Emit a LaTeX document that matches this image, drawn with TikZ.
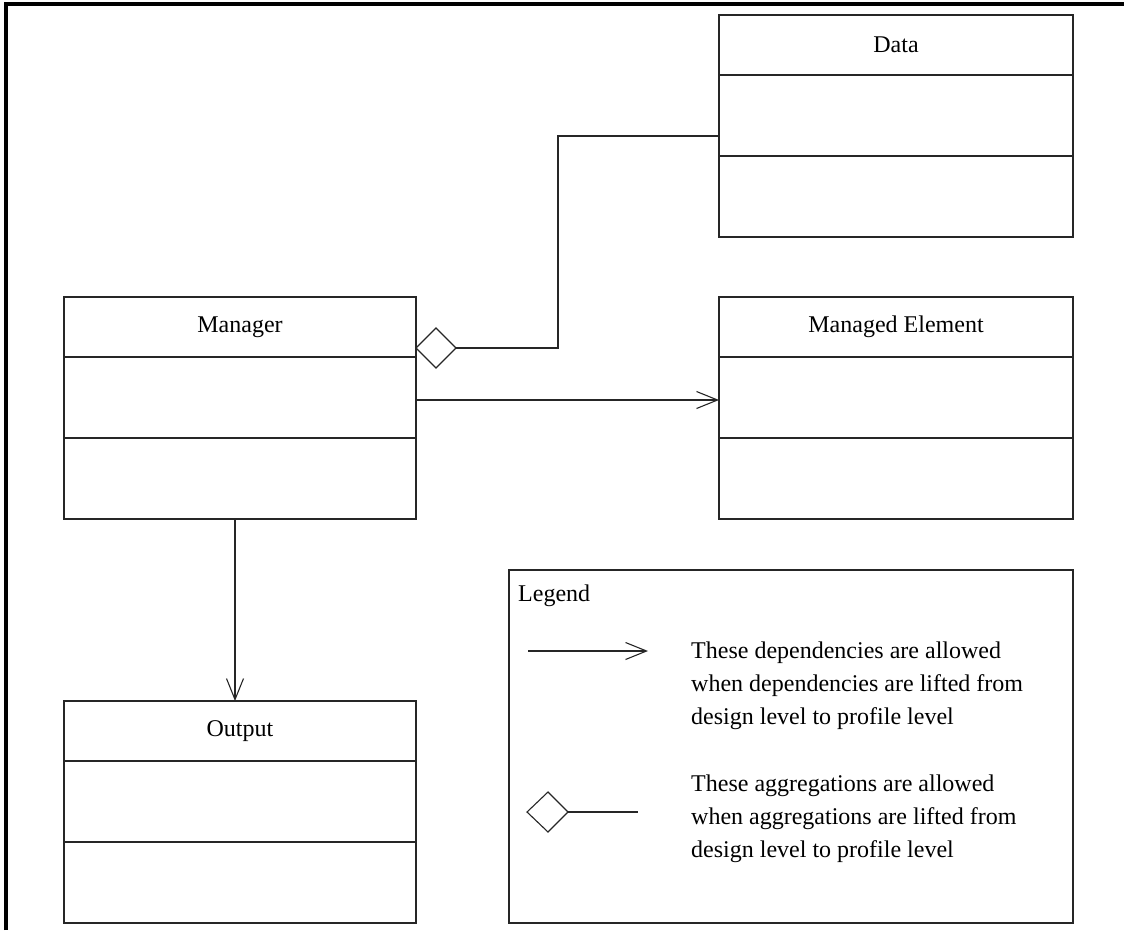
\documentclass[tikz,border=0pt]{standalone}
\usepackage{fontspec}
\setmainfont{Liberation Serif}
\usetikzlibrary{arrows.meta}
\begin{document}
\begin{tikzpicture}[x=1pt,y=-1pt,
  box/.style={draw=black!85,line width=1.2pt},
  sep/.style={draw=black!85,line width=1.2pt},
  conn/.style={draw=black!85,line width=1.1pt},
  dep/.style={conn,-{Straight Barb[length=21pt,width=17pt,line width=1.1pt]}},
  title/.style={font=\fontsize{24}{28}\selectfont,inner sep=0pt},
  legtext/.style={font=\fontsize{24}{33}\selectfont,align=left,anchor=north west,inner sep=0pt}
]
\useasboundingbox (0,0) rectangle (1124,930);
% frame
\draw[line width=3.6pt] (6,930) -- (6,4) -- (1124,4);

% class boxes: name compartment (60) + two compartments (81 each)
\newcommand{\umlclass}[4]{%
  \draw[box] (#1,#2) rectangle (#3,#2+222);
  \draw[sep] (#1,#2+60) -- (#3,#2+60);
  \draw[sep] (#1,#2+141) -- (#3,#2+141);
  \node[title] (#4) at ({(#1+#3)/2},#2+30) {};
}
\umlclass{719}{15}{1073}{data}
\umlclass{64}{297}{416}{mgr}
\umlclass{719}{297}{1073}{elem}
\umlclass{64}{701}{416}{out}
\node[title] (datat) at (data) {Data};
\node[title] (mgrt) at (mgr) {Manager};
\node[title] (elemt) at (elem) {Managed Element};
\node[title] (outt) at (out) {Output};

% connector anchors
\coordinate (dataL) at (719,136);
\coordinate (bend1) at (558,136);
\coordinate (bend2) at (558,348);
\coordinate (dia) at (416,348);
\coordinate (mgrR) at (416,400);
\coordinate (elemL) at (719,400);
\coordinate (mgrB) at (235,519);
\coordinate (outT) at (235,701);

% aggregation Manager <>-- Data
\draw[conn,fill=white] (dia) -- ++(20,-20) -- ++(20,20) coordinate (diaR) -- ++(-20,20) -- cycle;
\draw[conn] (diaR) -- (bend2) -- (bend1) -- (dataL);

% dependencies
\draw[dep] (mgrR) -- (elemL);
\draw[dep] (mgrB) -- (outT);

% legend
\draw[box] (509,570) rectangle (1073,923);
\node[title,anchor=base west] (legtitle) at (518,601) {Legend};
\coordinate (ldepA) at (528,651);
\coordinate (ldepB) at (648,651);
\draw[dep] (ldepA) -- (ldepB);
\coordinate (laggA) at (527,812);
\coordinate (laggB) at (638,812);
\draw[conn,fill=white] (laggA) -- ++(21,-20) -- ++(20,20) coordinate (laggR) -- ++(-20,20) -- cycle;
\draw[conn] (laggR) -- (laggB);
\node[legtext] (t1) at (691,642) {These dependencies are allowed\\when dependencies are lifted from\\design level to profile level};
\node[legtext] (t2) at (691,775) {These aggregations are allowed\\when aggregations are lifted from\\design level to profile level};
\end{tikzpicture}
\end{document}
